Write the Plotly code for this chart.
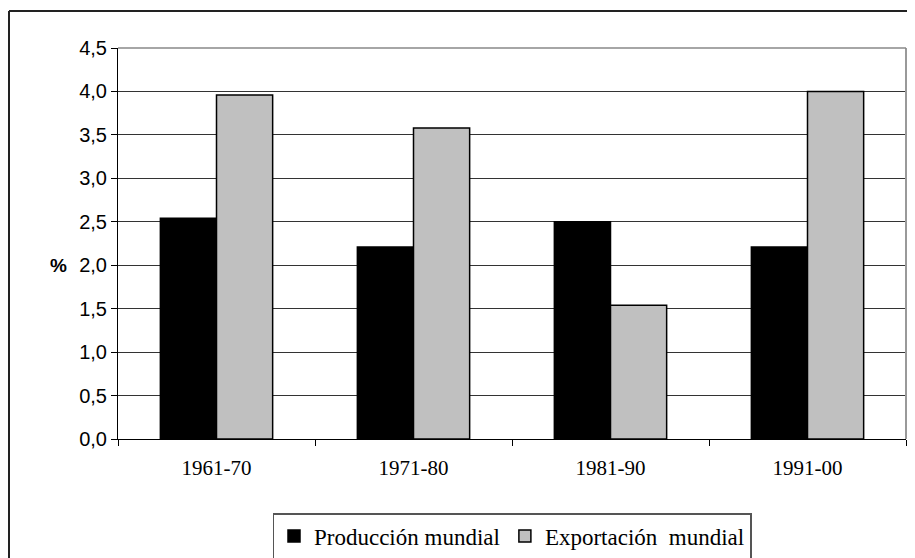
import plotly.graph_objects as go

# datos
periodos = ["1961-70", "1971-80", "1981-90", "1991-00"]
produccion = [2.54, 2.21, 2.50, 2.21]
exportacion = [3.96, 3.58, 1.54, 4.00]
y_ticks = [0, 0.5, 1, 1.5, 2, 2.5, 3, 3.5, 4, 4.5]

# la página añade 8px de margen, así que el lienzo es 8px más pequeño
W, H = 907, 550
L, R, T, B = 110, 9, 40, 119
pw = W - L - R
ph = H - T - B


def px_x(x):
    return (x - L) / pw


def px_y(y):
    return (H - B - y) / ph


fig = go.Figure()
fig.add_trace(go.Bar(x=periodos, y=produccion, name="Producción mundial",
                     marker=dict(color="#000000", line=dict(color="#000000", width=1.5))))
fig.add_trace(go.Bar(x=periodos, y=exportacion, name="Exportación  mundial",
                     marker=dict(color="#C0C0C0", line=dict(color="#000000", width=1.5))))

fig.update_layout(
    width=W, height=H,
    margin=dict(l=L, r=R, t=T, b=B, autoexpand=False),
    paper_bgcolor="white", plot_bgcolor="white",
    barmode="group", bargap=0.43, bargroupgap=0,
    separators=",.",
    showlegend=True,
    legend=dict(orientation="h", x=0.5, xanchor="center", y=px_y(505), yanchor="top",
                bordercolor="#555555", borderwidth=1.5,
                font=dict(family="Liberation Serif", size=23, color="black"),
                traceorder="normal"),
)

fig.update_xaxes(
    showline=True, linecolor="black", linewidth=1,
    ticks="outside", ticklen=6, tickcolor="black", tickson="boundaries",
    tickfont=dict(family="Liberation Serif", size=21, color="black"),
    ticklabelstandoff=10, showgrid=False,
)
fig.update_yaxes(
    range=[0, 4.5], tickvals=y_ticks, tickformat=".1f",
    showline=True, linecolor="black", linewidth=1,
    ticks="outside", ticklen=6, tickcolor="black",
    tickfont=dict(family="Liberation Sans", size=20, color="black"),
    showgrid=True, gridcolor="#333333", gridwidth=1, zeroline=False,
)

# borde derecho y superior del área de trazado (gris)
fig.add_shape(type="line", xref="paper", yref="paper", x0=1, x1=1, y0=0, y1=1,
              line=dict(color="#999999", width=2))
fig.add_shape(type="line", xref="paper", yref="paper", x0=0, x1=1, y0=1, y1=1,
              line=dict(color="#888888", width=1.5))
# borde exterior del gráfico
fig.add_shape(type="line", xref="paper", yref="paper", x0=px_x(1), x1=px_x(930),
              y0=px_y(3), y1=px_y(3), line=dict(color="#222222", width=2))
fig.add_shape(type="line", xref="paper", yref="paper", x0=px_x(1), x1=px_x(1),
              y0=px_y(3), y1=px_y(580), line=dict(color="#222222", width=2))

fig.add_annotation(text="<b>%</b>", xref="paper", yref="paper", x=px_x(40), y=px_y(257),
                   showarrow=False, font=dict(family="Liberation Sans", size=19, color="black"))

fig.write_html("out.html")
